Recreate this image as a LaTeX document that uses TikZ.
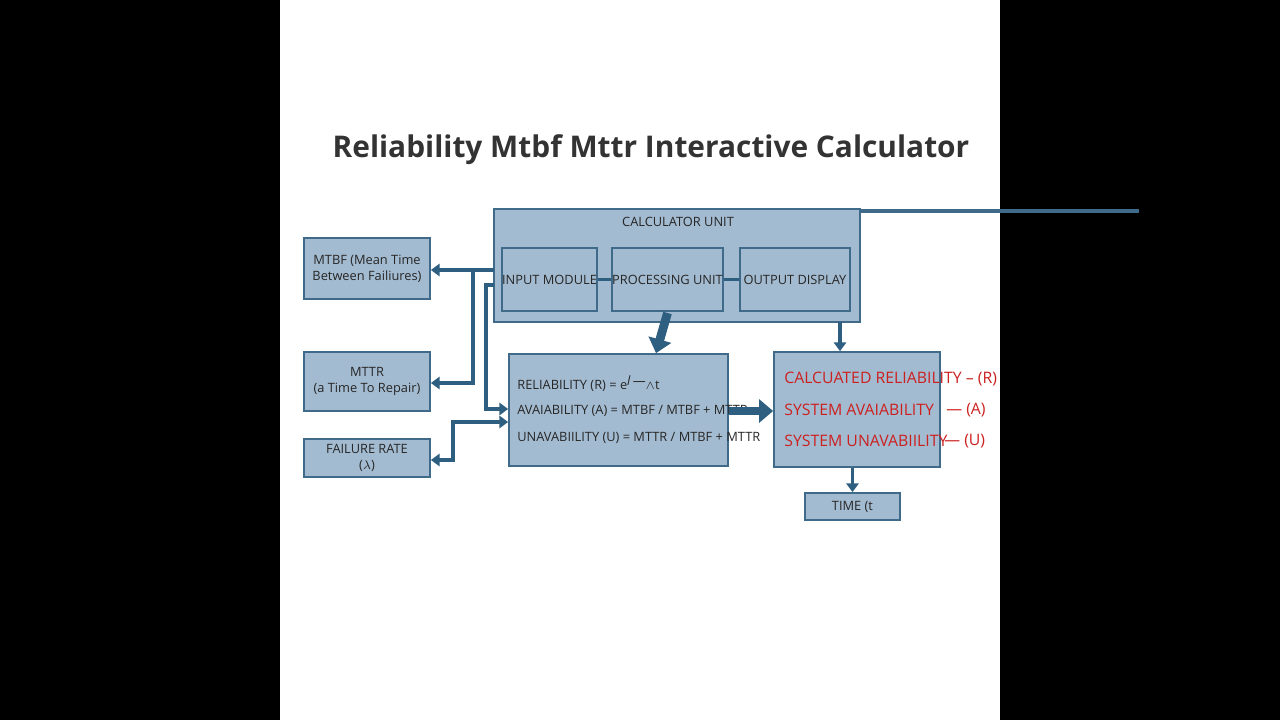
\documentclass[tikz,border=0pt]{standalone}
\usepackage{fontspec}
\setmainfont{Open Sans}
\usetikzlibrary{arrows.meta}
\definecolor{boxfill}{HTML}{A3BBD0}
\definecolor{boxline}{HTML}{3F6A8A}
\definecolor{arr}{HTML}{2F5F80}
\definecolor{redt}{HTML}{CC2020}
\begin{document}
\begin{tikzpicture}[x=0.02cm,y=-0.02cm,
  box/.style={draw=boxline,fill=boxfill,line width=1pt,inner sep=0pt,align=center,font=\fontsize{7.3}{9}\selectfont,text=black!85},
  con/.style={draw=arr,line width=2pt,-{Triangle[length=5pt,width=7pt]}},
  thick con/.style={draw=arr,line width=5pt,-{Triangle[length=8pt,width=13pt]}},
  ft/.style={font=\fontsize{7.3}{9}\selectfont,text=black!85,anchor=west,inner sep=0pt},
  rt/.style={font=\fontsize{9}{11}\selectfont,text=redt,anchor=west,inner sep=0pt}]
\useasboundingbox (0,0) rectangle (1280,720);
\fill[black] (0,0) rectangle (1280,720);
\fill[white] (280,0) rectangle (1000,720);
\node[font=\bfseries\fontsize{17}{20}\selectfont,text=black!80] (title) at (651,150) {Reliability Mtbf Mttr Interactive Calculator};
% calculator unit
\node[box,minimum width=366\pgflinewidth,anchor=north west] (calc) at (494,209) {};
\path[box] (494,209) rectangle (860,322);
\coordinate (calcw1) at (494,270);
\coordinate (calcw2) at (494,285);
\node[ft,anchor=center] (calct) at (678,222) {CALCULATOR UNIT};
\node[box,minimum width=1.82cm,minimum height=1.26cm] (in) at (549.5,279.5) {INPUT MODULE};
\node[box,minimum width=2.18cm,minimum height=1.26cm] (proc) at (667.5,279.5) {PROCESSING UNIT};
\node[box,minimum width=2.2cm,minimum height=1.26cm] (out) at (795,279.5) {OUTPUT DISPLAY};
\draw[arr,line width=2pt] (in) -- (proc);
\draw[arr,line width=2pt] (proc) -- (out);
% left boxes
\node[box,minimum width=2.52cm,minimum height=1.22cm] (mtbf) at (367,268.5) {MTBF (Mean Time\\Between Failiures)};
\node[box,minimum width=2.52cm,minimum height=1.18cm] (mttr) at (367,381.5) {MTTR\\(a Time To Repair)};
\node[box,minimum width=2.52cm,minimum height=0.76cm] (fr) at (367,458) {FAILURE RATE\\($\lambda$)};
% formula box
\node[box,minimum width=4.38cm,minimum height=2.24cm] (form) at (618.5,410) {};
\node[ft] (f1) at (517,384) {RELIABILITY (R) = e\raisebox{0.6ex}{\textit{l}\,—}\raisebox{0.1ex}{\scriptsize$\wedge$}t};
\node[ft] (f2) at (517,411) {AVAIABILITY (A) = MTBF / MTBF + MTTR};
\node[ft] (f3) at (517,438) {UNAVABIILITY (U) = MTTR / MTBF + MTTR};
% result box
\node[box,minimum width=3.32cm,minimum height=2.3cm] (res) at (857,409.5) {};
\node[rt] (r1) at (784,379) {CALCUATED RELIABILITY – (R)};
\node[rt] (r2) at (784,410) {SYSTEM AVAIABILITY};
\node[rt] (r2b) at (946,410) {— (A)};
\node[rt] (r3) at (784,441) {SYSTEM UNAVABIILITY};
\node[rt] (r3b) at (944,441) {— (U)};
\node[box,minimum width=1.9cm,minimum height=0.54cm] (time) at (852.5,506.5) {TIME (t};
% connectors
\draw[con] (calcw1) -- (mtbf.east |- calcw1);
\draw[con] (473,270) |- (mttr.east |- 0,383);
\draw[con] (calcw2) -- (486,285) |- (form.west |- 0,409);
\draw[draw=arr,line width=2pt,{Triangle[length=5pt,width=7pt]}-{Triangle[length=5pt,width=7pt]}] (fr.east |- 0,460) -- (453,460) |- (form.west |- 0,422);
\draw[thick con] (proc.south |- 0,313) -- (form.north -| 656,0);
\draw[con] (840,322) -- (res.north -| 840,0);
\draw[thick con] (form.east |- 0,411) -- (res.west |- 0,411);
\draw[con] (res.south -| time.north) -- (time.north);
\end{tikzpicture}
\end{document}
